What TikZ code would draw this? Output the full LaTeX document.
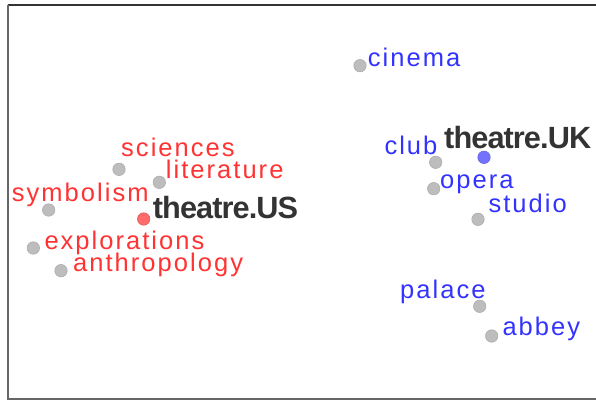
\documentclass[tikz,border=0pt]{standalone}
\usepackage{fontspec}
\setmainfont{Liberation Sans}
\newfontfamily\lab[LetterSpace=8]{Liberation Sans}
\newfontfamily\headf[LetterSpace=-3]{Liberation Sans}
\definecolor{redtxt}{HTML}{FF3333}
\definecolor{bluetxt}{HTML}{3333FF}
\definecolor{headc}{HTML}{333333}
\definecolor{dotgray}{HTML}{BDBDBD}
\definecolor{dotedge}{HTML}{AAAAAA}
\definecolor{reddot}{HTML}{FF6B6B}
\definecolor{bluedot}{HTML}{7272FF}
\tikzset{
  dotg/.style={circle, fill=dotgray, draw=dotedge, line width=0.5pt, minimum size=12.5pt, inner sep=0pt},
  dotr/.style={dotg, fill=reddot, draw=reddot!85!black},
  dotb/.style={dotg, fill=bluedot, draw=bluedot!85!black},
  lbl/.style={anchor=base west, inner sep=0pt, font=\lab\fontsize{25.5}{29}\selectfont},
  ustxt/.style={lbl, text=redtxt},
  uktxt/.style={lbl, text=bluetxt},
  headtxt/.style={anchor=base west, inner sep=0pt, font=\headf\bfseries\fontsize{30.7}{34}\selectfont, text=headc}
}
\begin{document}
\begin{tikzpicture}[x=1pt,y=-1pt]
\useasboundingbox (0,0) rectangle (596,401);
\fill[white] (0,0) rectangle (596,401);
% frame
\draw[line width=1.5pt, headc] (7.5,5) -- (596,5);
\draw[line width=2pt, black!60] (7.5,5) -- (7.5,398.5) -- (596,398.5);

% US cluster
\node[dotg] (dsci) at (119,169.3) {};
\node[dotg] (dlit) at (159.3,182.3) {};
\node[dotg] (dsym) at (48.7,210) {};
\node[dotr] (dus) at (143.7,219) {};
\node[dotg] (dexp) at (33.3,248) {};
\node[dotg] (dant) at (61,270.7) {};
\node[ustxt] (tsci) at (121,156) {sciences};
\node[ustxt] (tlit) at (165.7,178.3) {literature};
\node[ustxt] (tsym) at (11.7,201.7) {symbolism};
\node[headtxt] (tus) at (152.7,218.3) {theatre.US};
\node[ustxt] (texp) at (44.3,249.3) {explorations};
\node[ustxt] (tant) at (73,271.7) {anthropology};

% UK cluster
\node[dotg] (dcin) at (360,65.7) {};
\node[dotg] (dclub) at (435.7,162.3) {};
\node[dotb] (duk) at (484,157.3) {};
\node[dotg] (dop) at (433.7,188.7) {};
\node[dotg] (dstu) at (478,219.3) {};
\node[dotg] (dpal) at (479.7,306.3) {};
\node[dotg] (dabb) at (491.7,336) {};
\node[uktxt] (tcin) at (367.7,66.7) {cinema};
\node[headtxt] (tuk) at (444,148.3) {theatre.UK};
\node[uktxt] (tclub) at (384.3,154.3) {club};
\node[uktxt] (top) at (440,188.3) {opera};
\node[uktxt] (tstu) at (488.3,212.7) {studio};
\node[uktxt] (tpal) at (400,298.3) {palace};
\node[uktxt] (tabb) at (502.3,335) {abbey};
\end{tikzpicture}
\end{document}
